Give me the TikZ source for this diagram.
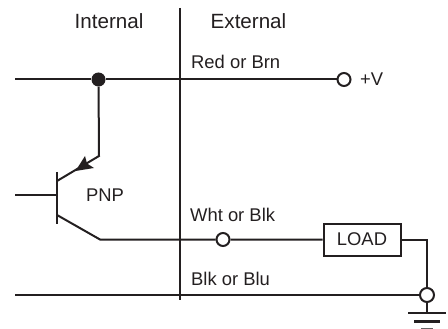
\documentclass[tikz,border=0pt]{standalone}
\usepackage{fontspec}
\setmainfont{Liberation Sans}
\definecolor{ink}{HTML}{231F20}
\tikzset{
  wire/.style={draw=ink,line width=2pt},
  thinwire/.style={draw=ink,line width=1.7pt},
  term/.style={circle,draw=ink,fill=white,line width=2pt,inner sep=0pt,minimum size=13pt},
  lbl/.style={text=ink,inner sep=0pt,font=\fontsize{18.4}{20}\selectfont},
  hdr/.style={text=ink,inner sep=0pt,font=\fontsize{20.6}{22}\selectfont},
  loadbox/.style={draw=ink,fill=white,line width=2pt,inner sep=0pt,minimum width=77pt,minimum height=32pt,text=ink,font=\fontsize{18.4}{20}\selectfont}
}
\begin{document}
\begin{tikzpicture}[x=1pt,y=-1pt]
\useasboundingbox (0,0) rectangle (448,329);
% divider
\coordinate (divT) at (179.5,8);
\coordinate (divB) at (179.5,300);
\draw[wire] (divT) -- (divB);
% rails
\coordinate (topL) at (15,79.5);
\coordinate (botL) at (15,295);
\coordinate (baseL) at (15,195);
\coordinate (baseR) at (56.5,195);
\coordinate (barT) at (56.5,172);
\coordinate (barB) at (56.5,223.5);
\coordinate (emE) at (57,181);
\coordinate (emK) at (99,156);
\coordinate (colS) at (57,215);
\coordinate (colK) at (100,239.5);
\coordinate (g) at (427,313);
\coordinate (g1L) at (408,313);\coordinate (g1R) at (446,313);
\coordinate (g2L) at (414,321.5);\coordinate (g2R) at (440,321.5);
\coordinate (g3L) at (421,328.5);\coordinate (g3R) at (433,328.5);
\node[term] (vplus) at (344,79.5) {};
\node[term,minimum size=14pt] (gnd) at (427,295) {};
\node[term] (wht) at (223,239.5) {};
\node[loadbox] (load) at (362,239.5) {LOAD};
\node[circle,fill=ink,inner sep=0pt,minimum size=14pt] (dot) at (98.5,79.5) {};
\draw[wire] (topL) -- (dot) -- (vplus);
\draw[wire] (botL) -- (gnd);
\draw[wire,line join=miter] (dot) -- (emK) -- (emE);
\fill[ink] (75.5,171) -- (85,156) -- (87,163.5) -- (94,168) -- cycle;
\draw[thinwire] (baseL) -- (baseR);
\draw[wire] (barT) -- (barB);
\draw[wire] (colS) -- (colK) -- (wht) -- (load);
\draw[wire] (load.east) -| (gnd);
\draw[wire] (gnd) -- (g);
\draw[wire,line width=2.2pt] (g1L) -- (g1R);
\draw[wire,line width=2.2pt] (g2L) -- (g2R);
\draw[wire,line width=1.4pt,draw=ink!70] (g3L) -- (g3R);
% labels
\node[hdr,anchor=base] (int) at (109,29) {Internal};
\node[hdr,anchor=base] (ext) at (248.5,29) {External};
\node[lbl,anchor=base west] (red) at (191,69) {Red or Brn};
\node[lbl,anchor=base west] (v) at (360,86) {+V};
\node[lbl,anchor=base] (pnp) at (105,201) {PNP};
\node[lbl,anchor=base west] (whtl) at (190,222) {Wht or Blk};
\node[lbl,anchor=base west] (blk) at (191,285) {Blk or Blu};
\end{tikzpicture}
\end{document}
